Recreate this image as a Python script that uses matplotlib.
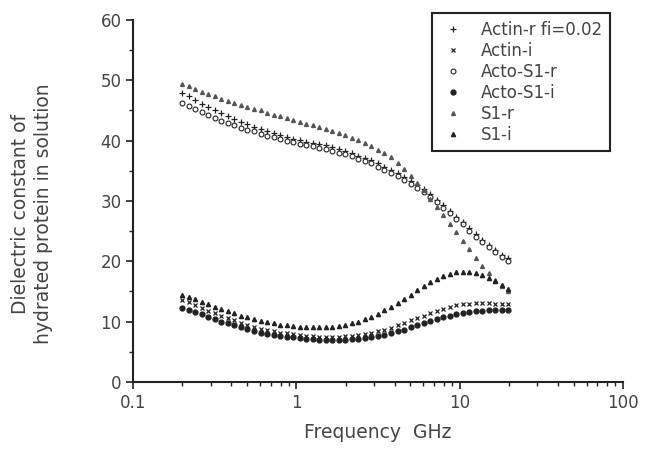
import matplotlib
matplotlib.use("Agg")
import matplotlib.pyplot as plt
from matplotlib.ticker import MultipleLocator, LogLocator, NullFormatter, FixedLocator, FixedFormatter

# frequency points (GHz), 25 per decade from 0.2 GHz
freq = [0.2, 0.219, 0.240, 0.263, 0.288, 0.316, 0.347, 0.380, 0.417, 0.457,
        0.501, 0.550, 0.603, 0.661, 0.724, 0.794, 0.871, 0.955, 1.047, 1.148,
        1.259, 1.380, 1.514, 1.660, 1.820, 1.995, 2.188, 2.399, 2.630, 2.884,
        3.162, 3.467, 3.802, 4.169, 4.571, 5.012, 5.495, 6.026, 6.607, 7.244,
        7.943, 8.710, 9.550, 10.47, 11.48, 12.59, 13.80, 15.14, 16.60, 18.20, 19.95]

actin_r = [47.9, 47.3, 46.7, 46.1, 45.5, 45.0, 44.5, 44.0, 43.6, 43.1,
           42.7, 42.3, 41.9, 41.6, 41.2, 40.9, 40.6, 40.3, 40.1, 39.8,
           39.6, 39.4, 39.2, 38.9, 38.6, 38.2, 37.9, 37.5, 37.1, 36.7,
           36.2, 35.7, 35.2, 34.6, 34.0, 33.3, 32.6, 31.9, 31.1, 30.2,
           29.3, 28.4, 27.4, 26.5, 25.5, 24.5, 23.6, 22.7, 21.9, 21.1, 20.5]
actin_i = [13.6, 13.2, 12.8, 12.3, 11.8, 11.4, 11.0, 10.6, 10.2, 9.8,
           9.4, 9.1, 8.8, 8.6, 8.4, 8.2, 8.1, 7.9, 7.8, 7.7,
           7.6, 7.5, 7.5, 7.5, 7.5, 7.6, 7.7, 7.8, 7.9, 8.1,
           8.4, 8.7, 9.0, 9.4, 9.8, 10.2, 10.6, 11.0, 11.4, 11.8,
           12.1, 12.4, 12.7, 12.9, 13.0, 13.1, 13.1, 13.1, 13.0, 13.0, 13.0]
acto_r = [46.3, 45.8, 45.2, 44.7, 44.2, 43.8, 43.3, 42.9, 42.5, 42.1,
          41.8, 41.5, 41.1, 40.8, 40.6, 40.3, 40.0, 39.8, 39.5, 39.3,
          39.1, 38.8, 38.6, 38.3, 38.0, 37.7, 37.4, 37.0, 36.6, 36.2,
          35.7, 35.2, 34.7, 34.1, 33.5, 32.8, 32.1, 31.4, 30.6, 29.8,
          28.9, 28.0, 27.0, 26.1, 25.1, 24.1, 23.2, 22.3, 21.5, 20.7, 20.0]
acto_i = [12.3, 12.0, 11.6, 11.2, 10.8, 10.4, 10.0, 9.7, 9.4, 9.1,
          8.8, 8.5, 8.2, 8.0, 7.8, 7.6, 7.5, 7.4, 7.3, 7.2,
          7.1, 7.0, 7.0, 7.0, 7.0, 7.0, 7.1, 7.2, 7.3, 7.4,
          7.6, 7.8, 8.1, 8.4, 8.7, 9.1, 9.4, 9.8, 10.1, 10.5,
          10.8, 11.0, 11.2, 11.4, 11.6, 11.7, 11.8, 11.9, 12.0, 12.0, 12.0]
s1_r = [49.4, 49.0, 48.5, 48.1, 47.7, 47.3, 46.9, 46.6, 46.3, 45.9,
        45.6, 45.3, 45.0, 44.6, 44.3, 44.0, 43.7, 43.4, 43.1, 42.8,
        42.5, 42.2, 41.9, 41.6, 41.3, 40.9, 40.5, 40.1, 39.6, 39.1,
        38.5, 37.9, 37.2, 36.3, 35.3, 34.2, 33.0, 31.8, 30.4, 29.0,
        27.6, 26.2, 24.8, 23.4, 22.0, 20.6, 19.3, 18.0, 16.9, 15.9, 15.0]
s1_i = [14.4, 14.1, 13.7, 13.3, 12.9, 12.5, 12.1, 11.8, 11.4, 11.0,
        10.7, 10.4, 10.1, 9.9, 9.7, 9.5, 9.4, 9.3, 9.2, 9.1,
        9.1, 9.1, 9.1, 9.2, 9.3, 9.5, 9.7, 10.0, 10.4, 10.8,
        11.3, 11.9, 12.5, 13.1, 13.8, 14.5, 15.2, 15.9, 16.5, 17.0,
        17.5, 17.9, 18.2, 18.3, 18.3, 18.1, 17.8, 17.3, 16.7, 16.0, 15.4]

labels = ["Actin-r fi=0.02", "Actin-i", "Acto-S1-r", "Acto-S1-i", "S1-r", "S1-i"]
xticks = [0.1, 1, 10, 100]
xticklabels = ["0.1", "1", "10", "100"]

plt.rcParams['font.family'] = ['DejaVu Sans']
tc = '#444444'
mc = '#222222'

fig = plt.figure(figsize=(6.5, 4.5), dpi=100)
ax = fig.add_axes([0.205, 0.151, 0.753, 0.805])

ax.plot(freq, actin_r, ls='none', marker='+', ms=4.5, mew=0.9, color=mc, label=labels[0])
ax.plot(freq, actin_i, ls='none', marker='x', ms=3.5, mew=0.9, color=mc, label=labels[1])
ax.plot(freq, acto_r, ls='none', marker='o', ms=3.5, mew=0.8, mfc='white', mec=mc, label=labels[2])
ax.plot(freq, acto_i, ls='none', marker='o', ms=3.5, color=mc, label=labels[3])
ax.plot(freq, s1_r, ls='none', marker='^', ms=2.8, color='#555555', label=labels[4])
ax.plot(freq, s1_i, ls='none', marker='^', ms=3.0, color=mc, label=labels[5])

ax.set_xscale('log')
ax.set_xlim(0.1, 100)
ax.set_ylim(0, 60)
ax.xaxis.set_major_locator(FixedLocator(xticks))
ax.xaxis.set_major_formatter(FixedFormatter(xticklabels))
ax.xaxis.set_minor_locator(LogLocator(base=10, subs=range(2, 10)))
ax.xaxis.set_minor_formatter(NullFormatter())
ax.yaxis.set_major_locator(MultipleLocator(10))
ax.yaxis.set_minor_locator(MultipleLocator(5))

for side in ['top', 'right']:
    ax.spines[side].set_visible(False)
for side in ['left', 'bottom']:
    ax.spines[side].set_linewidth(1.5)
    ax.spines[side].set_color('#222222')

ax.tick_params(which='major', direction='out', length=5, width=1.2, color='#222222',
               labelsize=12, labelcolor=tc)
ax.tick_params(which='minor', direction='out', length=3, width=1.0, color='#222222')

ax.set_xlabel("Frequency  GHz", fontsize=13.5, color=tc, labelpad=8)
ax.set_ylabel("Dielectric constant of\nhydrated protein in solution", fontsize=13.5,
              color=tc, linespacing=1.3)
ax.yaxis.set_label_coords(-0.163, 0.464)

leg = ax.legend(loc='upper right', bbox_to_anchor=(0.938, 0.971), bbox_transform=fig.transFigure,
                borderaxespad=0, numpoints=1, fontsize=12,
                fancybox=False, edgecolor='#222222', framealpha=1, handletextpad=0.9,
                labelspacing=0.18, borderpad=0.45, handlelength=1.6)
leg.get_frame().set_linewidth(1.5)
for t in leg.get_texts():
    t.set_color(tc)

fig.savefig("out.png", dpi=100)
